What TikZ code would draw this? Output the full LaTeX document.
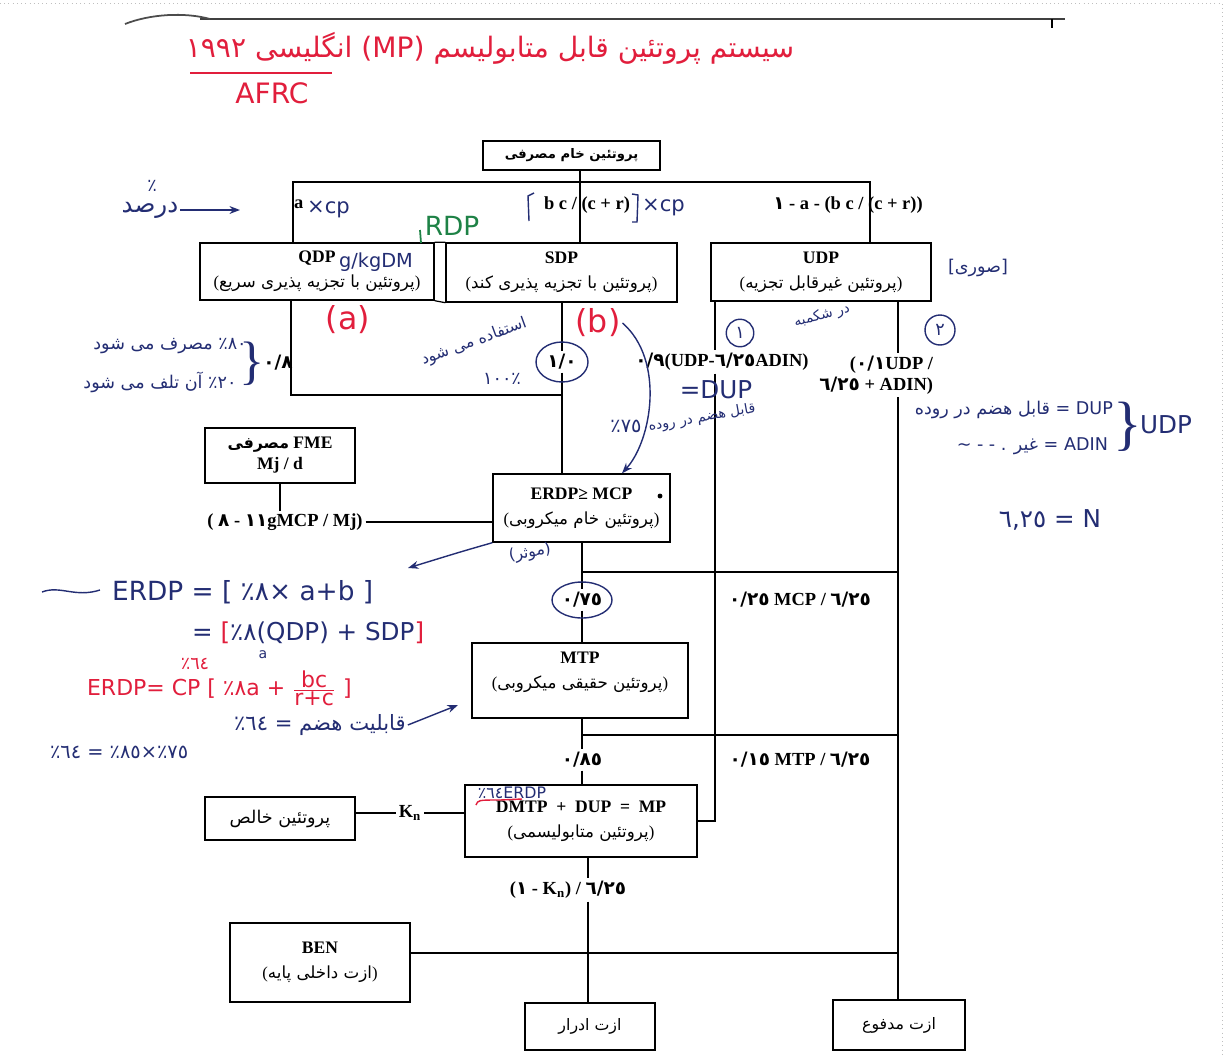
\documentclass[tikz,border=0pt]{standalone}
\usepackage{fontspec}
\setmainfont{Liberation Serif}
\newfontfamily\fa[Script=Arabic]{DejaVu Sans}
\newfontfamily\hwl{DejaVu Sans}
\TeXXeTstate=1
\usetikzlibrary{arrows.meta}
\definecolor{ink}{RGB}{35,45,115}
\definecolor{redink}{RGB}{225,30,60}
\definecolor{greenink}{RGB}{30,130,70}
\newcommand\fatxt[1]{{\fa\beginR #1\endR}}
\newcommand\fapar[1]{{\fontsize{9.5}{11}\selectfont(\fatxt{#1})}}
\newcommand\fnum[1]{{\fa\bfseries #1}}
\newcommand\pc{{\fa ٪}\kern0pt}
\tikzset{
  box/.style={draw, line width=.8pt, fill=white, align=center, inner sep=2pt},
  lbl/.style={fill=white, inner sep=1.5pt, align=right, font=\bfseries\fontsize{10.5}{12}\selectfont},
  plain/.style={inner sep=1pt, font=\bfseries\fontsize{10.5}{12}\selectfont},
  link/.style={line width=.7pt},
  hw/.style={text=ink, inner sep=1pt, font=\hwl\fontsize{10}{12}\selectfont},
  rnote/.style={text=redink, inner sep=1pt, font=\hwl\fontsize{13}{15}\selectfont},
  pen/.style={draw=ink, line width=.8pt},
}
\begin{document}
\begin{tikzpicture}[x=0.02cm, y=-0.02cm, >={Stealth[length=6pt]}]
\useasboundingbox (0,0) rectangle (1226,1055);
% edge of the scanned page
\draw[gray!50, dotted] (0,3) -- (1222,3) -- (1222,1055);
\draw[line width=1.2pt, black!75] (200,19) -- (1065,19);
\draw[line width=.8pt] (1052,19) -- (1052,28);
\draw[line width=1pt, black!70] (125,24) .. controls (150,14) and (185,12) .. (210,19);

% title
\node[rnote, font=\hwl\fontsize{16}{19}\selectfont] (title) at (490,48)
  {{\fa ١٩٩٢}\ \fatxt{انگلیسی}\ (MP)\ \fatxt{سیستم پروتئین قابل متابولیسم}};
\draw[redink, line width=1pt] (190,73) -- (332,73);
\node[rnote, font=\hwl\fontsize{16}{19}\selectfont] (afrc) at (272,93) {AFRC};

% boxes
\node[box, minimum width=3.54cm, minimum height=.58cm] (crude) at (571.5,155.5) {\fatxt{\bfseries\fontsize{7.5}{9}\selectfont پروتئین خام مصرفی}};
\node[box, minimum width=4.68cm, minimum height=1.14cm] (qdp) at (317,271.5) {\textbf{QDP}\hspace{.5cm}\\[2pt]\fapar{پروتئین با تجزیه پذیری سریع}};
\node[box, minimum width=4.62cm, minimum height=1.18cm] (sdp) at (561.5,272.5) {\textbf{SDP}\\[2pt]\fapar{پروتئین با تجزیه پذیری کند}};
\node[box, minimum width=4.4cm, minimum height=1.16cm] (udp) at (821,272) {\textbf{UDP}\\[2pt]\fapar{پروتئین غیرقابل تجزیه}};
\node[box, minimum width=3cm, minimum height=1.1cm] (fme) at (280,455.5) {\fatxt{\bfseries\fontsize{9}{10}\selectfont مصرفی}\ \textbf{FME}\\\textbf{Mj / d}};
\node[box, minimum width=3.54cm, minimum height=1.36cm] (erdp) at (581.5,508) {\textbf{ERDP≥ MCP}\\[2pt]\fapar{پروتئین خام میکروبی}};
\node[box, minimum width=4.32cm, minimum height=1.5cm] (mtp) at (580,680.5) {\textbf{MTP}\\[2pt]\fapar{پروتئین حقیقی میکروبی}\\\mbox{}};
\node[box, minimum width=4.64cm, minimum height=1.44cm] (dmtp) at (581,821) {\textbf{DMTP \ + \ DUP \ = \ MP}\\[2pt]\fapar{پروتئین متابولیسمی}};
\node[box, minimum width=3cm, minimum height=.86cm] (khales) at (280,818.5) {\fatxt{\fontsize{10}{11}\selectfont پروتئین خالص}};
\node[box, minimum width=3.6cm, minimum height=1.58cm] (ben) at (320,962.5) {\textbf{BEN}\\[2pt]\fapar{ازت داخلی پایه}};
\node[box, minimum width=2.6cm, minimum height=.94cm] (edrar) at (590,1026.5) {\fatxt{\fontsize{9}{10}\selectfont ازت ادرار}};
\node[box, minimum width=2.64cm, minimum height=1cm] (madfu) at (899,1025) {\fatxt{\fontsize{9}{10}\selectfont ازت مدفوع}};
\fill (660,496) circle (1.4pt);

% labels on the lines
\node[plain, anchor=west] (la) at (292,204) {a};
\node[plain] (lbc) at (587,205) {b c / (c + r)};
\node[plain] (lrest) at (848,205) {\fnum{١} - a - (b c / (c + r))};
\node[plain] (l08) at (278,363) {\fnum{٠/٨}};
\node[lbl] (l10) at (562,362) {\fnum{١/٠}};
\node[lbl] (l09) at (722,362) {\fnum{٠/٩}(UDP-\fnum{٦/٢٥}ADIN)};
\node[lbl, anchor=east] (l01) at (936,375) {(\fnum{٠/١}UDP /\\\fnum{٦/٢٥} + ADIN)};
\node[lbl] (lfme) at (285,522) {( \fnum{٨} - \fnum{١١}gMCP / Mj)};
\node[lbl] (l075) at (582,600) {\fnum{٠/٧٥}};
\node[plain] (l025) at (800,600) {\fnum{٠/٢٥} MCP / \fnum{٦/٢٥}};
\node[lbl] (l085) at (582,760) {\fnum{٠/٨٥}};
\node[plain] (l015) at (800,760) {\fnum{٠/١٥} MTP / \fnum{٦/٢٥}};
\node[lbl] (lkn) at (410,813) {K\textsubscript{n}};
\node[lbl] (l1kn) at (568,890) {(\fnum{١} - K\textsubscript{n}) / \fnum{٦/٢٥}};

% connectors
\coordinate (xtop) at (580,0);
\coordinate (t1) at (293,182);
\coordinate (t2) at (870,182);
\coordinate (q1) at (291,395);
\coordinate (xs) at (562,0);
\coordinate (xu1) at (715,0);
\coordinate (xu2) at (898,0);
\coordinate (xe) at (582,0);
\coordinate (j1) at (582,572);
\coordinate (j2) at (582,735);
\coordinate (xd) at (588,0);
\coordinate (b1) at (898,953);
\draw[link] (crude.south -| xtop) -- (sdp.north -| xtop);
\draw[link] (qdp.north -| t1) -- (t1) -- (t2) -- (udp.north -| t2);
\draw[link] (qdp.north east) -- (sdp.north west);
\draw[link] (qdp.south east) -- (sdp.south west);
\draw[link] (qdp.south -| q1) -- (q1) -- (q1 -| xs);
\draw[link] (sdp.south -| xs) -- (l10) -- (erdp.north -| xs);
\draw[link] (udp.south -| xu1) -- (l09.north -| xu1);
\draw[link] (l09.south -| xu1) |- (dmtp.east);
\draw[link] (udp.south -| xu2) -- (l01.north -| xu2);
\draw[link] (l01.south -| xu2) -- (madfu.north -| xu2);
\draw[link] (fme.south) -- (fme.south |- lfme.north);
\draw[link] (lfme.east) -- (erdp.west |- lfme.east);
\draw[link] (erdp.south -| xe) -- (l075) -- (mtp.north -| xe);
\draw[link] (j1) -- (j1 -| xu2);
\draw[link] (mtp.south -| xe) -- (l085) -- (dmtp.north -| xe);
\draw[link] (j2) -- (j2 -| xu2);
\draw[link] (khales.east |- lkn) -- (lkn) -- (dmtp.west |- lkn);
\draw[link] (dmtp.south -| xd) -- (l1kn.north -| xd);
\draw[link] (l1kn.south -| xd) -- (edrar.north -| xd);
\draw[link] (ben.east |- b1) -- (b1);

% handwritten notes
\node[hw, font=\hwl\fontsize{14}{16}\selectfont] (pct) at (150,210) {\fatxt{درصد}};
\node[hw] (pctmark) at (152,186) {\pc};
\coordinate (arrA) at (240,210);
\draw[pen, ->] (pct.east) -- (arrA);
\node[hw, font=\hwl\fontsize{12}{14}\selectfont, anchor=west] (cp1) at (305,209) {×cp};
\node[hw, font=\hwl\fontsize{12}{14}\selectfont, anchor=west] (cp2) at (640,207) {×cp};
\draw[pen] (534,193) -- (528,196) -- (529,221);
\draw[pen] (632,194) -- (638,195) -- (637,222) -- (632,222);
\node[text=greenink, inner sep=1pt, font=\hwl\fontsize{15}{17}\selectfont] (rdp) at (452,226) {RDP};
\draw[greenink, line width=1pt] (420,230) -- (421,243);
\node[hw, font=\hwl\fontsize{11}{13}\selectfont, anchor=west] (gkg) at (337,262) {g/kgDM};
\node[rnote, font=\hwl\fontsize{18}{20}\selectfont] (ta) at (348,320) {(a)};
\node[rnote, font=\hwl\fontsize{18}{20}\selectfont] (tb) at (598,323) {(b)};
\node[hw] (n80) at (170,346) {\fatxt{٨٠٪ مصرف می شود}};
\node[hw] (n20) at (160,382) {\fatxt{٢٠٪ آن تلف می شود}};
\node[text=ink, inner sep=0pt, font=\fontsize{30}{30}\selectfont] (brl) at (252,364) {\}};
\node[hw, rotate=20, font=\hwl\fontsize{9}{11}\selectfont] (n100a) at (474,342) {\fatxt{استفاده می شود}};
\node[hw] (n100b) at (502,379) {{\fa ١٠٠}\kern0pt\pc};
\draw[pen] (l10) ellipse [x radius=.52cm, y radius=.4cm];
\draw[pen, ->] (tb.east) .. controls (665,360) and (652,440) .. (erdp.north -| 622,0);
\node[hw, font=\hwl\fontsize{11}{13}\selectfont] (n75) at (626,426) {\pc{\fa ٧٥}};
\node[hw, rotate=10, font=\hwl\fontsize{8}{10}\selectfont] (nhazm) at (702,418) {\fatxt{قابل هضم در روده}};
\node[hw, font=\hwl\fontsize{14}{16}\selectfont] (ndup) at (716,390) {=DUP};
\node[hw, rotate=15, font=\hwl\fontsize{8}{10}\selectfont] (nshk) at (822,316) {\fatxt{در شکمبه}};
\node[hw, draw=ink, line width=.8pt, circle, minimum size=.55cm] (c1) at (740,333) {\fa ١};
\node[hw, draw=ink, line width=.8pt, circle, minimum size=.6cm] (c2) at (940,330) {\fa ٢};
\node[hw] (suri) at (978,268) {[\fatxt{صوری}]};
\node[hw, anchor=east] (rn1) at (1115,410) {\fatxt{قابل هضم در روده} = DUP};
\node[hw, anchor=east] (rn2) at (1110,446) {\textasciitilde\ - - . \fatxt{غیر} = ADIN};
\node[text=ink, inner sep=0pt, font=\fontsize{34}{34}\selectfont] (brr) at (1128,427) {\}};
\node[hw, font=\hwl\fontsize{14}{16}\selectfont, anchor=west] (nudp) at (1138,425) {UDP};
\node[hw, font=\hwl\fontsize{14}{16}\selectfont] (nN) at (1050,520) {{\fa ٦,٢٥} = N};
\node[hw, rotate=10, font=\hwl\fontsize{9}{11}\selectfont] (moa) at (530,553) {(\fatxt{موثر})};
\coordinate (arrE) at (408,568);
\draw[pen, ->] (erdp.south west) .. controls (460,552) .. (arrE);
\draw[pen] (42,592) .. controls (60,585) and (75,598) .. (100,590);
\node[hw, font=\hwl\fontsize{15}{18}\selectfont, anchor=west] (f1) at (110,592) {ERDP = [ \pc{\fa ٨}× a+b ]};
\node[hw, font=\hwl\fontsize{14}{17}\selectfont, anchor=west] (f2) at (190,633) {= \textcolor{redink}{[}\pc{\fa ٨}(QDP) + SDP\textcolor{redink}{]}};
\node[hw, font=\hwl\fontsize{8}{10}\selectfont] (fa) at (263,655) {a};
\node[rnote, font=\hwl\fontsize{10}{12}\selectfont] (f3top) at (195,664) {\pc{\fa ٦٤}};
\node[rnote, anchor=west, font=\hwl\fontsize{12.5}{15}\selectfont] (f3) at (85,688) {ERDP= CP [ \pc{\fa ٨}a + $\frac{\mbox{bc}}{\mbox{r+c}}$ ]};
\node[hw, font=\hwl\fontsize{12}{14}\selectfont, anchor=west] (f4) at (232,725) {\pc{\fa ٦٤} = \fatxt{قابلیت هضم}};
\coordinate (arrM) at (458,705);
\draw[pen, ->] (f4.east) -- (arrM);
\node[hw, font=\hwl\fontsize{11}{13}\selectfont, anchor=west] (f5) at (48,752) {\pc{\fa ٦٤} = \pc{\fa ٨٥}×\pc{\fa ٧٥}};
\draw[pen] (l075) ellipse [x radius=.6cm, y radius=.36cm];
\node[hw, font=\hwl\fontsize{9}{11}\selectfont] (n64) at (512,793) {\pc{\fa ٦٤}ERDP};
\draw[redink, line width=.8pt] (476,805) .. controls (478,800) .. (500,800) -- (522,799);
\end{tikzpicture}
\end{document}
